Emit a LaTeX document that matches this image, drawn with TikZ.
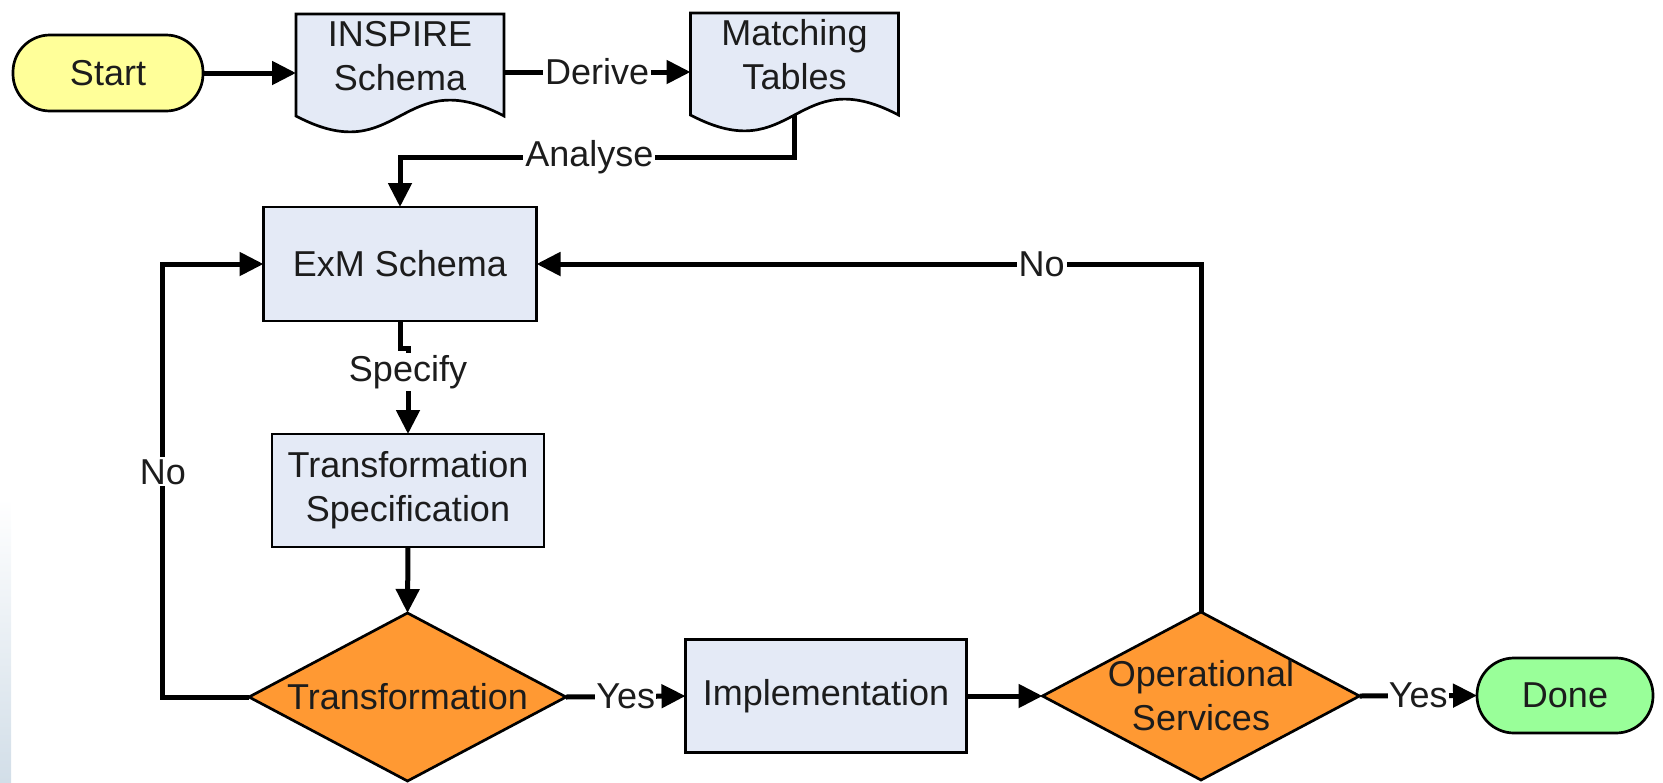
\documentclass[tikz,border=0pt]{standalone}
\usepackage{fontspec}
\setmainfont{Liberation Sans}
\usetikzlibrary{shapes.geometric,arrows.meta,calc,backgrounds}
\definecolor{boxfill}{RGB}{228,234,246}
\definecolor{startfill}{RGB}{255,255,153}
\definecolor{donefill}{RGB}{153,255,153}
\definecolor{decfill}{RGB}{255,153,51}
\definecolor{txt}{RGB}{28,28,28}
\definecolor{stripend}{RGB}{210,222,232}
\newcommand\docoutline[1]{%
  \filldraw[docshape] (#1.north west) -- (#1.north east) -- ($(#1.south east)+(0,18)$)
    .. controls ($(#1.south)+(0,-37)$) and ($(#1.south)+(0,73)$) .. ($(#1.south west)+(0,18)$) -- cycle;}
\begin{document}
\begin{tikzpicture}[x=1pt,y=-1pt,
  every node/.style={font=\fontsize{36}{44}\selectfont, text=txt, inner sep=0pt, outer sep=0pt},
  term/.style={draw=black, line width=2.7pt, rounded corners=37pt, minimum height=76pt, align=center},
  procbox/.style={draw=black, fill=boxfill, line width=2.7pt, align=center},
  docnode/.style={minimum width=208pt, minimum height=84pt, align=center},
  docshape/.style={draw=black, fill=boxfill, line width=2.7pt},
  decision/.style={diamond, draw=black, fill=decfill, line width=2.7pt, minimum width=317pt, minimum height=168pt},
  dtext/.style={align=center},
  conn/.style={line width=5pt, -{Triangle[length=24pt,width=23pt]}},
  lab/.style={fill=white, inner sep=2pt}
]
\useasboundingbox (0,0) rectangle (1663,782);

% nodes
\node[term, fill=startfill, minimum width=190pt] (start) at (108,73) {Start};
\node[docnode] (insp) at (400,56) {INSPIRE\\Schema};
\node[docnode] (mt) at (794.5,55) {Matching\\Tables};
\node[procbox, minimum width=273pt, minimum height=114pt] (exm) at (400,264) {ExM Schema};
\node[procbox, minimum width=272pt, minimum height=113pt] (ts) at (408,490.5) {Transformation\\Specification};
\node[decision, label={[dtext]center:Transformation}] (dec1) at (407.5,697) {};
\node[procbox, minimum width=281pt, minimum height=113pt] (impl) at (826,696) {Implementation};
\node[decision, label={[dtext]center:{Operational\\Services}}] (dec2) at (1201,696) {};
\node[term, fill=donefill, minimum width=176pt, minimum height=75pt] (done) at (1565,695.5) {Done};

\begin{pgfonlayer}{background}
  \shade[top color=white, bottom color=stripend] (0,498) rectangle (11,782);
  \docoutline{insp}
  \docoutline{mt}
\end{pgfonlayer}

% connectors
\draw[conn] (start.east) -- (start.east -| insp.west);
\draw[conn] ($(insp.east)+(0,16)$) -- node[lab]{Derive} ($(mt.west)+(0,17)$);
\coordinate (mtb) at ($(mt.south)+(0,18)$);
\draw[conn] (mtb) |- node[lab,pos=0.76]{Analyse} ($(exm.north)+(0,-50)$) -- (exm.north);
\draw[conn] (dec2.north) |- node[lab,pos=0.62]{No} (exm.east);
\draw[conn] (exm.south) -- ++(0,27) -| node[lab,pos=0.64]{Specify} (ts.north);
\draw[conn] (ts.south) -- (dec1.north);
\draw[conn] (dec1.west) -| node[lab,pos=0.76]{No} ($(exm.west)+(-100.7,0)$) -- (exm.west);
\draw[conn] (dec1.east) -- node[lab,inner sep=1pt]{Yes} (impl.west);
\draw[conn] (impl.east) -- (dec2.west);
\draw[conn] (dec2.east) -- node[lab,inner sep=1pt]{Yes} (done.west);
\end{tikzpicture}
\end{document}
